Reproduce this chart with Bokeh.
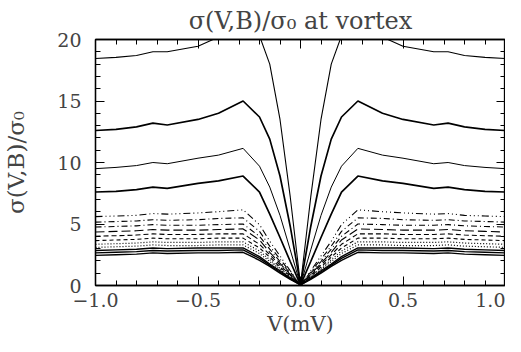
from bokeh.plotting import figure
from bokeh.models import LinearAxis, Range1d, FixedTicker
from bokeh.embed import file_html
from bokeh.resources import INLINE

# Voltage grid (left half, mV); the measured curves are symmetric in V
v_left = [-1.0, -0.9, -0.8, -0.72, -0.65, -0.5, -0.4, -0.28, -0.2, -0.15, -0.1, -0.05, 0.0]

# sigma(V,B)/sigma_0, one list per field value (top to bottom)
u1 = [18.45, 18.55, 18.7, 19.0, 19.0, 19.45, 20.2, 22.0, 20.3, 18.0, 13.5, 7.2, 0.05]
u2 = [12.6, 12.7, 12.9, 13.2, 13.05, 13.5, 14.0, 15.0, 13.7, 11.9, 8.9, 4.8, 0.05]
u3 = [9.5, 9.6, 9.75, 10.0, 9.9, 10.35, 10.6, 11.15, 9.7, 8.0, 5.7, 2.9, 0.05]
u4 = [7.6, 7.65, 7.8, 8.0, 7.9, 8.3, 8.5, 8.9, 7.6, 5.8, 3.9, 1.95, 0.05]
l1 = [5.6, 5.65, 5.7, 5.85, 5.8, 5.9, 6.0, 6.15, 4.95, 3.6, 2.4, 1.2, 0.05]
l2 = [5.15, 5.2, 5.25, 5.35, 5.3, 5.35, 5.45, 5.5, 4.4, 3.2, 2.15, 1.1, 0.05]
l3 = [4.75, 4.8, 4.85, 4.95, 4.9, 4.9, 4.95, 5.0, 4.0, 2.95, 1.95, 1.0, 0.05]
l4 = [4.35, 4.4, 4.45, 4.55, 4.5, 4.5, 4.55, 4.6, 3.7, 2.7, 1.8, 0.9, 0.05]
l5 = [4.0, 4.05, 4.1, 4.2, 4.15, 4.15, 4.2, 4.2, 3.35, 2.5, 1.65, 0.85, 0.05]
l6 = [3.65, 3.7, 3.75, 3.85, 3.8, 3.8, 3.85, 3.85, 3.05, 2.3, 1.5, 0.75, 0.05]
l7 = [3.35, 3.4, 3.45, 3.55, 3.5, 3.5, 3.55, 3.55, 2.8, 2.1, 1.4, 0.7, 0.05]
l8 = [3.1, 3.15, 3.2, 3.3, 3.25, 3.25, 3.3, 3.3, 2.6, 1.95, 1.3, 0.65, 0.05]
l9 = [2.85, 2.9, 2.95, 3.05, 3.0, 3.05, 3.05, 3.05, 2.35, 1.75, 1.2, 0.6, 0.05]
l10 = [2.65, 2.7, 2.75, 2.85, 2.8, 2.85, 2.85, 2.9, 2.2, 1.65, 1.1, 0.55, 0.05]
l11 = [2.45, 2.5, 2.55, 2.65, 2.6, 2.65, 2.65, 2.7, 2.05, 1.55, 1.0, 0.5, 0.05]

curves = [u1, u2, u3, u4, l1, l2, l3, l4, l5, l6, l7, l8, l9, l10, l11]
dashes = ["solid", "solid", "solid", "solid",
          "7 3 1 3 1 3 1 3", "6 3 1 3", "6 3 1 3", "9 4", "5 3", "4 3",
          "1 2", "1 2", "solid", "solid", "solid"]
widths = [1.1, 1.7, 1.0, 1.7, 1.1, 1.1, 1.1, 1.1, 1.1, 1.1, 1.2, 1.2, 1.4, 1.4, 1.4]

x_ticks = [-1.0, -0.5, 0.0, 0.5, 1.0]
x_labels = {-1.0: "\u22121.0", -0.5: "\u22120.5", 0.0: "0.0", 0.5: "0.5", 1.0: "1.0"}
x_minor = [-1.0 + 0.1 * i for i in range(21)]
y_ticks = [0, 5, 10, 15, 20]
y_minor = list(range(0, 21))

FONT = "DejaVu Serif"

p = figure(width=505, height=338,
           x_range=Range1d(-1.0, 1.0), y_range=Range1d(0, 20),
           output_backend="svg", toolbar_location=None,
           title="\u03c3(V,B)/\u03c3\u2080 at vortex", x_axis_location=None, y_axis_location=None)
p.min_border = 0
p.grid.visible = False
p.outline_line_color = "black"
p.outline_line_width = 1.3
p.title.text_font = FONT
p.title.text_font_size = "24px"
p.title.text_font_style = "normal"
p.title.align = "center"
p.title.offset = 0
p.title.standoff = 9

v_right = [-v for v in reversed(v_left[:-1])]
v_all = v_left + v_right
for ys, d, w in zip(curves, dashes, widths):
    y_all = ys + list(reversed(ys[:-1]))
    p.line(v_all, y_all, line_color="black", line_width=w, line_dash=d)


def style(ax):
    ax.axis_line_color = "black"
    ax.axis_line_width = 1.3
    ax.major_tick_in = 9
    ax.major_tick_out = 0
    ax.minor_tick_in = 5
    ax.minor_tick_out = 0
    ax.major_tick_line_color = "black"
    ax.minor_tick_line_color = "black"
    ax.major_label_text_font = FONT
    ax.axis_label_text_font = FONT
    ax.axis_label_text_font_style = "normal"


xb = LinearAxis(ticker=FixedTicker(ticks=x_ticks, minor_ticks=x_minor), axis_label="V(mV)")
style(xb)
xb.major_label_overrides = x_labels
xb.major_label_text_font_size = "19px"
xb.axis_label_text_font_size = "21px"
xb.major_label_standoff = 7
xb.axis_label_standoff = 2
p.add_layout(xb, "below")

yl = LinearAxis(ticker=FixedTicker(ticks=y_ticks, minor_ticks=y_minor), axis_label="\u03c3(V,B)/\u03c3\u2080")
style(yl)
yl.major_label_text_font_size = "19px"
yl.axis_label_text_font_size = "23px"
yl.major_label_standoff = 14
yl.axis_label_standoff = 25
p.add_layout(yl, "left")

xt = LinearAxis(ticker=FixedTicker(ticks=x_ticks, minor_ticks=x_minor))
style(xt)
xt.major_label_overrides = {t: "" for t in x_ticks}
xt.major_label_text_font_size = "1px"
xt.major_label_standoff = 0
p.add_layout(xt, "above")

yr = LinearAxis(ticker=FixedTicker(ticks=y_ticks, minor_ticks=y_minor))
style(yr)
yr.major_label_overrides = {t: "" for t in y_ticks}
yr.major_label_text_font_size = "1px"
yr.major_label_standoff = 4
p.add_layout(yr, "right")

open("out.html", "w").write(file_html(p, INLINE))
